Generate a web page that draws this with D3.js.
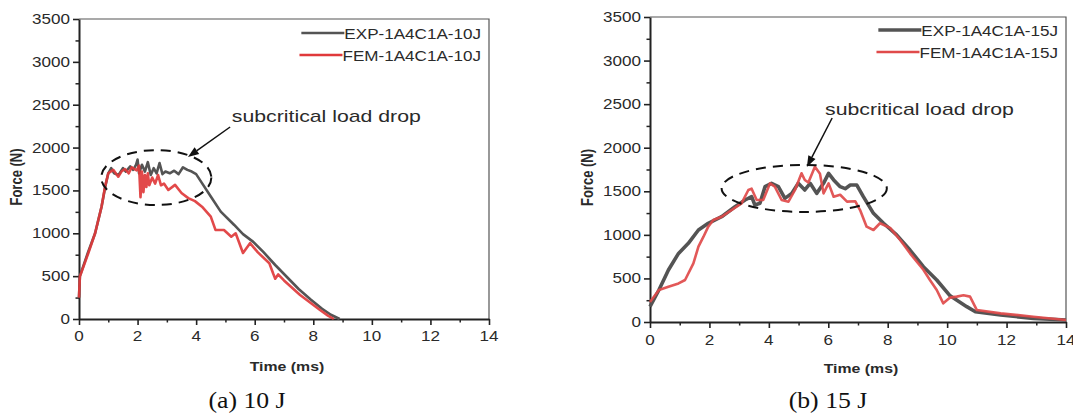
<!DOCTYPE html>
<html>
<head>
<meta charset="utf-8">
<script src="https://cdn.jsdelivr.net/npm/d3@7"></script>
<style>
  body { margin: 0; background: #fff; }
  svg { display: block; }
</style>
</head>
<body>
<script>
// ---- data ----
const timeTicks = [0, 2, 4, 6, 8, 10, 12, 14];
const forceTicks = [0, 500, 1000, 1500, 2000, 2500, 3000, 3500];

// (a) 10 J
const exp10T = [0, 0.03, 0.3, 0.55, 0.77, 0.9, 1.0, 1.1, 1.2, 1.35, 1.5, 1.6, 1.75, 1.85, 1.95, 2.0, 2.05, 2.15, 2.25, 2.35, 2.45, 2.55, 2.65, 2.75, 2.85, 2.95, 3.1, 3.25, 3.4, 3.55, 3.7, 3.85, 4.0, 4.2, 4.5, 4.84, 5.3, 5.6, 5.95, 6.3, 6.7, 7.1, 7.5, 7.9, 8.3, 8.6, 8.9];
const exp10F = [250, 500, 770, 1000, 1310, 1550, 1700, 1760, 1700, 1680, 1760, 1720, 1780, 1740, 1800, 1860, 1700, 1800, 1720, 1830, 1680, 1760, 1700, 1820, 1690, 1720, 1700, 1730, 1690, 1770, 1740, 1720, 1690, 1585, 1430, 1253, 1097, 990, 900, 780, 630, 490, 350, 230, 120, 50, 0];
const fem10T = [0, 0.03, 0.32, 0.55, 0.77, 0.89, 1.0, 1.17, 1.34, 1.45, 1.57, 1.7, 1.8, 1.97, 2.05, 2.1, 2.15, 2.2, 2.25, 2.3, 2.35, 2.4, 2.5, 2.6, 2.7, 2.8, 2.9, 3.05, 3.28, 3.5, 3.73, 3.96, 4.2, 4.5, 4.66, 4.95, 5.2, 5.35, 5.6, 5.84, 6.1, 6.5, 6.63, 6.7, 6.8, 7.0, 7.55, 8.23, 8.5, 8.7];
const fem10F = [250, 494, 770, 1000, 1310, 1544, 1700, 1740, 1660, 1720, 1750, 1700, 1770, 1735, 1790, 1420, 1720, 1480, 1680, 1540, 1700, 1560, 1650, 1580, 1680, 1560, 1580, 1505, 1565, 1470, 1410, 1375, 1310, 1194, 1040, 1038, 960, 1000, 770, 885, 780, 650, 530, 470, 520, 450, 280, 105, 40, 0];

// (b) 15 J
const exp15T = [0, 0.3, 0.62, 0.96, 1.29, 1.63, 1.96, 2.41, 2.86, 3.2, 3.42, 3.53, 3.7, 3.87, 4.09, 4.32, 4.54, 4.77, 4.99, 5.21, 5.39, 5.61, 5.84, 6.01, 6.18, 6.4, 6.57, 6.74, 6.96, 7.18, 7.52, 7.86, 8.3, 8.75, 9.2, 9.65, 10.1, 10.66, 10.95, 11.8, 12.9, 14];
const exp15F = [176, 367, 597, 787, 903, 1056, 1133, 1208, 1323, 1400, 1438, 1343, 1362, 1553, 1591, 1553, 1419, 1476, 1591, 1515, 1591, 1476, 1591, 1706, 1630, 1553, 1530, 1572, 1572, 1438, 1247, 1133, 1000, 826, 635, 482, 300, 176, 118, 80, 42, 23];
const fem15T = [0, 0.3, 0.62, 0.96, 1.18, 1.46, 1.63, 1.8, 1.96, 2.13, 2.41, 2.75, 3.08, 3.31, 3.42, 3.59, 3.81, 4.04, 4.2, 4.43, 4.66, 4.88, 5.1, 5.21, 5.33, 5.55, 5.72, 5.84, 6.01, 6.18, 6.4, 6.63, 6.91, 7.07, 7.29, 7.52, 7.74, 8.08, 8.42, 8.75, 9.2, 9.42, 9.65, 9.87, 10.1, 10.32, 10.55, 10.77, 11.0, 11.8, 12.9, 14];
const fem15F = [230, 367, 405, 443, 482, 673, 864, 979, 1094, 1170, 1208, 1285, 1362, 1515, 1530, 1400, 1400, 1591, 1553, 1400, 1381, 1515, 1706, 1630, 1600, 1782, 1700, 1476, 1591, 1438, 1460, 1381, 1385, 1285, 1094, 1056, 1133, 1080, 941, 788, 600, 482, 367, 214, 280, 291, 306, 291, 137, 99, 61, 23];

const W = 1073, H = 416;
const SX = 1.22; // the source figure is stretched sideways

const svg = d3.select("body").append("svg")
    .attr("width", W)
    .attr("height", H);

// text that is stretched horizontally like the picture
function stext(g, x, y, str, size, anchor, weight, fam, sx) {
    return g.append("text")
        .attr("transform", `translate(${x},${y}) scale(${sx || SX},1)`)
        .attr("text-anchor", anchor || "start")
        .style("font-family", fam || "'Liberation Sans', Arial, sans-serif")
        .style("font-size", size + "px")
        .style("font-weight", weight || "normal")
        .style("fill", "#2a2a2a")
        .text(str);
}

function drawPanel(p) {
    const x = d3.scaleLinear().domain([0, 14]).range([p.x0, p.x1]);
    const y = d3.scaleLinear().domain([0, 3500]).range([p.y1, p.y0]);
    const g = svg.append("g");

    // frame (top/right)
    g.append("path")
        .attr("d", `M${p.x0},${p.y0}H${p.x1}V${p.y1}`)
        .attr("fill", "none")
        .attr("stroke", "#555")
        .attr("stroke-width", 1.2);

    // minor ticks
    const xMinor = g.append("g").attr("transform", `translate(0,${p.y1})`)
        .call(d3.axisBottom(x).tickValues(d3.range(1, 14, 2)).tickSize(3.5).tickFormat(""));
    const yMinor = g.append("g").attr("transform", `translate(${p.x0},0)`)
        .call(d3.axisLeft(y).tickValues(d3.range(250, 3500, 500)).tickSize(3.5).tickFormat(""));
    [xMinor, yMinor].forEach(a => {
        a.select(".domain").remove();
        a.selectAll("line").attr("stroke", "#222").attr("stroke-width", 1.5);
    });

    const xa = g.append("g").attr("transform", `translate(0,${p.y1})`)
        .call(d3.axisBottom(x).tickValues(timeTicks).tickSize(6).tickSizeOuter(0).tickFormat(""));
    const ya = g.append("g").attr("transform", `translate(${p.x0},0)`)
        .call(d3.axisLeft(y).tickValues(forceTicks).tickSize(6).tickSizeOuter(0).tickFormat(""));
    [xa, ya].forEach(a => {
        a.select(".domain").attr("stroke", "#222").attr("stroke-width", 2);
        a.selectAll("line").attr("stroke", "#222").attr("stroke-width", 1.6);
    });

    // tick labels
    timeTicks.forEach(t => stext(g, x(t), p.y1 + p.xlab, String(t), 14, "middle"));
    forceTicks.forEach(f => stext(g, p.x0 - 9, y(f) + 5, String(f), 14, "end"));

    // axis titles
    stext(g, (p.x0 + p.x1) / 2 + 3, p.y1 + p.xtitle, "Time (ms)", 13, "middle", "bold");
    g.append("text")
        .attr("transform", `translate(${p.x0 - 57},${(p.y0 + p.y1) / 2 + 8}) rotate(-90) scale(1,${SX})`)
        .attr("text-anchor", "middle")
        .style("font-family", "'Liberation Sans', Arial, sans-serif")
        .style("font-size", "13px")
        .style("font-weight", "bold")
        .style("fill", "#2a2a2a")
        .text("Force (N)");

    // curves
    const line = d3.line().x(d => x(d[0])).y(d => y(d[1]));
    const expPts = d3.zip(p.expT, p.expF);
    const femPts = d3.zip(p.femT, p.femF);
    g.append("path").datum(expPts).attr("d", line)
        .attr("fill", "none").attr("stroke", "#545454")
        .attr("stroke-width", p.expW).attr("stroke-linejoin", "round");
    g.append("path").datum(femPts).attr("d", line)
        .attr("fill", "none").attr("stroke", p.femC)
        .attr("stroke-width", p.femW).attr("stroke-linejoin", "round").attr("opacity", 0.92);

    // dashed ellipse
    const e = p.ell;
    g.append("ellipse")
        .attr("cx", x(e[0])).attr("cy", y(e[1]))
        .attr("rx", x(e[0] + e[2]) - x(e[0]))
        .attr("ry", y(e[1]) - y(e[1] + e[3]))
        .attr("fill", "none").attr("stroke", "#111")
        .attr("stroke-width", 2).attr("stroke-dasharray", "10,7");

    // annotation arrow
    const a = p.arrow;
    const x1 = x(a[0]), y1 = y(a[1]), x2 = x(a[2]), y2 = y(a[3]);
    const ang = Math.atan2(y2 - y1, x2 - x1);
    const hl = 11, hw = 4;
    const bx = x2 - hl * Math.cos(ang), by = y2 - hl * Math.sin(ang);
    g.append("line")
        .attr("x1", x1).attr("y1", y1).attr("x2", bx).attr("y2", by)
        .attr("stroke", "#111").attr("stroke-width", 1.5);
    g.append("path")
        .attr("d", `M${x2},${y2}L${bx + hw * Math.sin(ang)},${by - hw * Math.cos(ang)}L${bx - hw * Math.sin(ang)},${by + hw * Math.cos(ang)}Z`)
        .attr("fill", "#111");
    stext(g, x(p.note[0]), y(p.note[1]), "subcritical load drop", 17, "start", "normal", null, 1.25);

    // legend
    const names = p.names;
    [[names[0], "#545454", p.expW], [names[1], p.femC, p.femW]].forEach((it, i) => {
        const ty = p.legY + i * 22;
        const t = stext(g, p.x1 - 8, ty, it[0], 14, "end");
        const tw = t.node().getComputedTextLength() * SX;
        const lx1 = p.x1 - 8 - tw;
        g.append("line")
            .attr("x1", lx1 - 43).attr("x2", lx1)
            .attr("y1", ty - 6).attr("y2", ty - 6)
            .attr("stroke", it[1]).attr("stroke-width", it[2]);
    });

    // caption
    g.append("text")
        .attr("transform", `translate(${p.capX},${H - 8}) scale(1.12,1)`)
        .attr("text-anchor", "middle")
        .style("font-family", "'Liberation Serif', 'Times New Roman', serif")
        .style("font-size", "23px")
        .style("fill", "#111")
        .text(p.caption);
}

drawPanel({
    x0: 79, x1: 489, y0: 19, y1: 319, xlab: 22, xtitle: 52,
    expT: exp10T, expF: exp10F, femT: fem10T, femF: fem10F,
    expW: 2.6, femW: 2.6, femC: "#e0393b",
    ell: [2.64, 1650, 1.88, 320],
    arrow: [5.16, 2240, 3.72, 1890],
    note: [5.22, 2300],
    names: ["EXP-1A4C1A-10J", "FEM-1A4C1A-10J"], legY: 39,
    caption: "(a) 10 J", capX: 247
});

drawPanel({
    x0: 650, x1: 1066, y0: 17, y1: 322, xlab: 23, xtitle: 51,
    expT: exp15T, expF: exp15F, femT: fem15T, femF: fem15F,
    expW: 3.6, femW: 2.6, femC: "#e04a4a",
    ell: [5.19, 1533, 2.78, 270],
    arrow: [6.13, 2341, 5.28, 1779],
    note: [5.89, 2375],
    names: ["EXP-1A4C1A-15J", "FEM-1A4C1A-15J"], legY: 36,
    caption: "(b) 15 J", capX: 828
});
</script>
</body>
</html>
